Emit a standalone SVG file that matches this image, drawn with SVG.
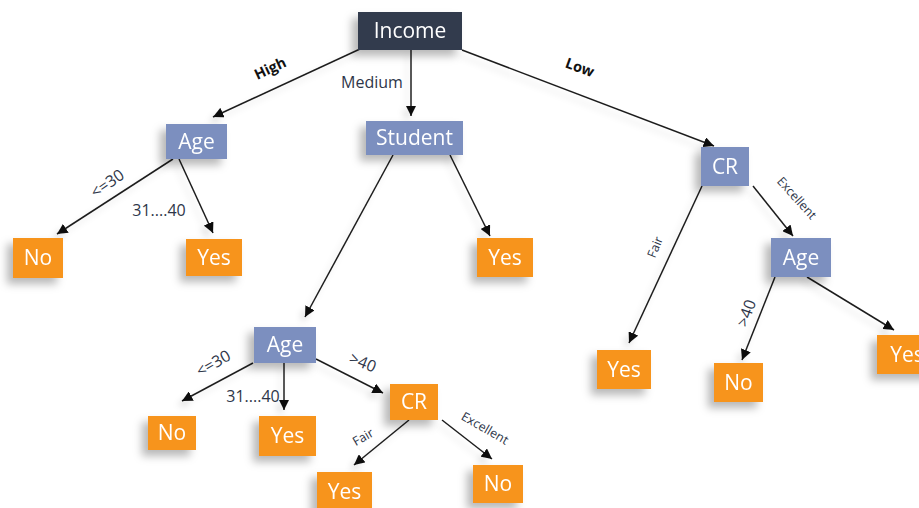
<svg xmlns="http://www.w3.org/2000/svg" width="919" height="508" viewBox="0 0 919 508">
<style>
  .dark{fill:#333b4e}
  .blue{fill:#7b8fbf}
  .orange{fill:#f7941d}
  .nt{font-family:"Open Sans","DejaVu Sans",sans-serif;font-size:21px;fill:#ffffff;text-anchor:middle}
  .lbl{font-family:"Open Sans","DejaVu Sans",sans-serif;font-size:16px;fill:#2e3649;text-anchor:middle;dominant-baseline:central}
  .b{font-weight:bold;fill:#111111;font-size:14.5px}
  .sm{font-size:12.5px}
  .conn line{stroke:#1f1f1f;stroke-width:1.5;marker-end:url(#arr)}
</style>
<defs>
  <marker id="arr" viewBox="0 0 10 10" refX="10" refY="5" markerWidth="7" markerHeight="7" orient="auto" markerUnits="strokeWidth">
    <path d="M0,0 L10,5 L0,10 z" fill="#111111"/>
  </marker>
  <filter id="sh" x="-40%" y="-40%" width="180%" height="200%">
    <feDropShadow dx="-6" dy="6" stdDeviation="4" flood-color="#000" flood-opacity="0.28"/>
  </filter>
  <filter id="lsh" x="-20%" y="-20%" width="140%" height="140%">
    <feDropShadow dx="-4" dy="5" stdDeviation="3" flood-color="#000" flood-opacity="0.12"/>
  </filter>
</defs>
<rect width="919" height="508" fill="#ffffff"/>

<g id="connectors" class="conn" filter="url(#lsh)">
  <line x1="360" y1="49" x2="213" y2="117"/>
  <line x1="411" y1="50" x2="411" y2="116"/>
  <line x1="462" y1="50" x2="714" y2="146"/>
  <line x1="173" y1="159" x2="57" y2="234"/>
  <line x1="179" y1="159" x2="213" y2="233"/>
  <line x1="393" y1="155" x2="305" y2="317"/>
  <line x1="450" y1="155" x2="490" y2="236"/>
  <line x1="702" y1="186" x2="629" y2="343"/>
  <line x1="753" y1="186" x2="793" y2="236"/>
  <line x1="775" y1="277" x2="742" y2="360"/>
  <line x1="807" y1="277" x2="894" y2="330"/>
  <line x1="253" y1="363" x2="182" y2="401"/>
  <line x1="284" y1="363" x2="284" y2="410"/>
  <line x1="316" y1="359" x2="383" y2="393"/>
  <line x1="409" y1="420" x2="354" y2="465"/>
  <line x1="442" y1="420" x2="492" y2="459"/>
</g>

<g id="labels">
  <text class="lbl b" transform="translate(270,68) rotate(-25)">High</text>
  <text class="lbl" x="372" y="82">Medium</text>
  <text class="lbl b" transform="translate(580,67) rotate(20)">Low</text>
  <text class="lbl" transform="translate(107,183) rotate(-35)">&lt;=30</text>
  <text class="lbl" x="159" y="210">31....40</text>
  <text class="lbl sm" transform="translate(655,247) rotate(-68)">Fair</text>
  <text class="lbl sm" transform="translate(797,198) rotate(48)">Excellent</text>
  <text class="lbl" transform="translate(746,313) rotate(-70)">&gt;40</text>
  <text class="lbl" transform="translate(213,363) rotate(-30)">&lt;=30</text>
  <text class="lbl" x="253" y="396">31....40</text>
  <text class="lbl" transform="translate(363,362) rotate(22)">&gt;40</text>
  <text class="lbl sm" transform="translate(363,437) rotate(-30)">Fair</text>
  <text class="lbl sm" transform="translate(485,428) rotate(30)">Excellent</text>
</g>

<g id="income" filter="url(#sh)"><rect class="dark" x="358" y="12" width="104" height="38"/><text class="nt" x="410" y="38">Income</text></g>
<g id="age1" filter="url(#sh)"><rect class="blue" x="166" y="124" width="61" height="35"/><text class="nt" x="196.5" y="148.5">Age</text></g>
<g id="student" filter="url(#sh)"><rect class="blue" x="366" y="121" width="97" height="34"/><text class="nt" x="414.5" y="145">Student</text></g>
<g id="cr1" filter="url(#sh)"><rect class="blue" x="701" y="147" width="48" height="39"/><text class="nt" x="725" y="174">CR</text></g>
<g id="no1" filter="url(#sh)"><rect class="orange" x="13" y="238" width="50" height="40"/><text class="nt" x="38" y="265">No</text></g>
<g id="yes1" filter="url(#sh)"><rect class="orange" x="186" y="239" width="56" height="37"/><text class="nt" x="214" y="265">Yes</text></g>
<g id="yes2" filter="url(#sh)"><rect class="orange" x="477" y="238" width="56" height="39"/><text class="nt" x="505" y="265">Yes</text></g>
<g id="age3" filter="url(#sh)"><rect class="blue" x="771" y="238" width="60" height="39"/><text class="nt" x="801" y="265">Age</text></g>
<g id="yes3" filter="url(#sh)"><rect class="orange" x="597" y="350" width="54" height="39"/><text class="nt" x="624" y="377">Yes</text></g>
<g id="no3" filter="url(#sh)"><rect class="orange" x="714" y="363" width="49" height="39"/><text class="nt" x="738.5" y="390">No</text></g>
<g id="yes4" filter="url(#sh)"><rect class="orange" x="877" y="335" width="60" height="39"/><text class="nt" x="907" y="362">Yes</text></g>
<g id="age2" filter="url(#sh)"><rect class="blue" x="254" y="327" width="62" height="36"/><text class="nt" x="285" y="352">Age</text></g>
<g id="no2" filter="url(#sh)"><rect class="orange" x="148" y="416" width="48" height="34"/><text class="nt" x="172" y="440">No</text></g>
<g id="yes5" filter="url(#sh)"><rect class="orange" x="259" y="416" width="57" height="40"/><text class="nt" x="287.5" y="443">Yes</text></g>
<g id="cr2" filter="url(#sh)"><rect class="orange" x="390" y="384" width="48" height="36"/><text class="nt" x="414" y="409">CR</text></g>
<g id="yes6" filter="url(#sh)"><rect class="orange" x="317" y="472" width="55" height="40"/><text class="nt" x="344.5" y="499">Yes</text></g>
<g id="no4" filter="url(#sh)"><rect class="orange" x="473" y="465" width="50" height="38"/><text class="nt" x="498" y="491">No</text></g>
</svg>
